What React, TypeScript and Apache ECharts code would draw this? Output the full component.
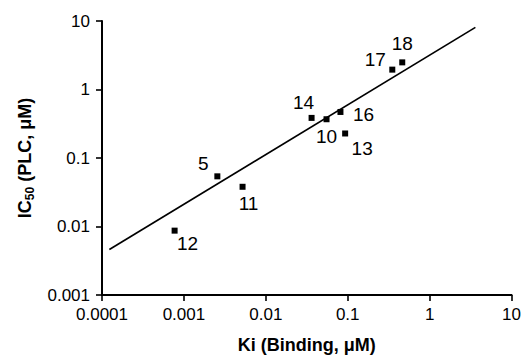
import React, { useEffect, useRef } from "react";
import * as echarts from "echarts";

// Compound labels and measured values (Ki binding µM, IC50 PLC µM)
const compounds = ["12", "5", "11", "14", "10", "16", "13", "17", "18"];
const kiValues = [0.00077, 0.00256, 0.0052, 0.0362, 0.0551, 0.0815, 0.093, 0.35, 0.463];
const ic50Values = [0.0087, 0.054, 0.038, 0.385, 0.368, 0.47, 0.228, 1.95, 2.49];
// Regression line end points
const fitKi = [0.000123, 3.62];
const fitIc50 = [0.00463, 8.07];
// Tick labels
const xTickLabels = ["0.0001", "0.001", "0.01", "0.1", "1", "10"];
const yTickLabels = ["0.001", "0.01", "0.1", "1", "10"];

// label offsets (styling)
const labelOffsets: [number, number][] = [
  [13, 13],
  [-14, -13],
  [6, 17],
  [-8, -15],
  [0, 17],
  [23, 3],
  [17, 15],
  [-17, -10],
  [0, -19],
];

const FONT = "'Liberation Sans', Arial, sans-serif";

export default function App() {
  const ref = useRef<HTMLDivElement>(null);
  useEffect(() => {
    if (!ref.current) return;
    const chart = echarts.init(ref.current, undefined, { renderer: "svg" });
    const scatterData = compounds.map((c, i) => ({
      value: [kiValues[i], ic50Values[i]],
      name: c,
      label: { offset: labelOffsets[i] },
    }));
    chart.setOption({
      animation: false,
      backgroundColor: "#fff",
      grid: { left: 102, right: 11, top: 21, bottom: 69 },
      xAxis: {
        type: "log",
        logBase: 10,
        min: 0.0001,
        max: 10,
        name: "Ki (Binding, \u03bcM)",
        nameLocation: "middle",
        nameGap: 41,
        nameTextStyle: { fontFamily: FONT, fontSize: 18, fontWeight: "bold", color: "#000" },
        axisLine: { lineStyle: { color: "#000", width: 2 } },
        axisTick: { length: 6, lineStyle: { color: "#000", width: 1.6 } },
        axisLabel: {
          margin: 11,
          fontFamily: FONT,
          fontSize: 17,
          color: "#000",
          showMinLabel: true,
          showMaxLabel: true,
          formatter: (_v: number, i: number) => xTickLabels[i] ?? "",
        },
        splitLine: { show: false },
        minorTick: { show: false },
      },
      yAxis: {
        type: "log",
        logBase: 10,
        min: 0.001,
        max: 10,
        name: "{a|IC}{s|50}{a| (PLC, \u03bcM)}",
        nameLocation: "middle",
        nameGap: 66,
        nameTextStyle: {
          fontFamily: FONT,
          fontSize: 18,
          fontWeight: "bold",
          color: "#000",
          rich: {
            a: { fontFamily: FONT, fontSize: 18, fontWeight: "bold", color: "#000" },
            s: { fontFamily: FONT, fontSize: 12, fontWeight: "bold", color: "#000", verticalAlign: "bottom", padding: [10, 0, 0, 0] },
          },
        },
        axisLine: { show: true, lineStyle: { color: "#000", width: 2 } },
        axisTick: { show: true, length: 6, lineStyle: { color: "#000", width: 1.6 } },
        axisLabel: {
          margin: 12,
          fontFamily: FONT,
          fontSize: 17,
          color: "#000",
          showMinLabel: true,
          showMaxLabel: true,
          formatter: (_v: number, i: number) => yTickLabels[i] ?? "",
        },
        splitLine: { show: false },
        minorTick: { show: false },
      },
      series: [
        {
          type: "line",
          data: fitKi.map((k, i) => [k, fitIc50[i]]),
          symbol: "none",
          lineStyle: { color: "#000", width: 1.7 },
          silent: true,
        },
        {
          type: "scatter",
          data: scatterData,
          symbol: "rect",
          symbolSize: 6,
          itemStyle: { color: "#000", opacity: 1 },
          label: {
            show: true,
            position: "inside",
            formatter: (p: any) => p.name,
            fontFamily: FONT,
            fontSize: 19,
            color: "#000",
            textBorderWidth: 0,
          },
        },
      ],
    });
    return () => chart.dispose();
  }, []);
  return (
    <div
      ref={ref}
      style={{ position: "fixed", left: 0, top: 0, width: 524, height: 364, background: "#fff" }}
    />
  );
}
